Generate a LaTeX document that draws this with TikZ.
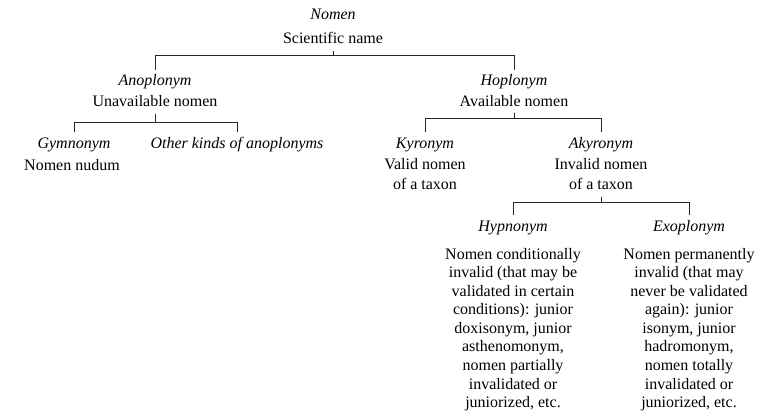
\documentclass[12pt,tikz,border=0pt]{standalone}
\usepackage{fontspec}
\setmainfont{Liberation Serif}
\usepackage{tikz}
\tikzset{%
	taxon/.style = {font=\itshape, anchor=base, text height=0.6em, inner sep=0pt, outer sep=5pt},
	gloss/.style = {font=\fontsize{12}{15.4}\selectfont, anchor=north, align=center, inner sep=0pt, outer sep=5pt},
	tight/.style = {font=\fontsize{12}{13.9}\selectfont},
	link/.style  = {draw=black!85, line width=0.6pt},
}
\begin{document}
\begin{tikzpicture}[x=0.75pt,y=-0.75pt]
	\useasboundingbox (0,0) rectangle (773,417);
	% level 0
	\node[taxon] (nomen) at (333,20) {Nomen};
	\node[gloss] (sci) at (333,25.8) {Scientific name};
	% level 1
	\node[taxon] (anop) at (155,86) {Anoplonym};
	\node[gloss] (unav) at (155,89) {Unavailable nomen};
	\node[taxon] (hopl) at (514,86) {Hoplonym};
	\node[gloss] (avail) at (514,88.5) {Available nomen};
	% level 2
	\node[taxon] (gymn) at (74,148) {Gymnonym};
	\node[gloss] (nudum) at (72,152.5) {Nomen nudum};
	\node[taxon] (other) at (237,148) {Other kinds of anoplonyms};
	\node[taxon] (kyro) at (425,148) {Kyronym};
	\node[gloss] (valid) at (425,151.5) {Valid nomen\\of a taxon};
	\node[taxon] (akyr) at (601,148) {Akyronym};
	\node[gloss] (invalid) at (601,151.5) {Invalid nomen\\of a taxon};
	% level 3
	\node[taxon] (hypn) at (513,231) {Hypnonym};
	\node[gloss,tight] (hypngloss) at (513,241.5) {Nomen conditionally\\invalid (that may be\\validated in certain\\conditions): junior\\doxisonym, junior\\asthenomonym,\\nomen partially\\invalidated or\\juniorized, etc.};
	\node[taxon] (exop) at (689,231) {Exoplonym};
	\node[gloss,tight] (exopgloss) at (689,241.5) {Nomen permanently\\invalid (that may\\never be validated\\again): junior\\isonym, junior\\hadromonym,\\nomen totally\\invalidated or\\juniorized, etc.};
	% brackets
	\draw[link] (sci.south) -- ++(0,5) -| (anop.north);
	\draw[link] (sci.south) -- ++(0,5) -| (hopl.north);
	\draw[link] (unav.south) -- ++(0,8.5) -| (gymn.north);
	\draw[link] (unav.south) -- ++(0,8.5) -| (other.north);
	\draw[link] (avail.south) -- ++(0,5) -| (kyro.north);
	\draw[link] (avail.south) -- ++(0,5) -| (akyr.north);
	\draw[link] (invalid.south) -- ++(0,6) -| (hypn.north);
	\draw[link] (invalid.south) -- ++(0,6) -| (exop.north);
\end{tikzpicture}
\end{document}
